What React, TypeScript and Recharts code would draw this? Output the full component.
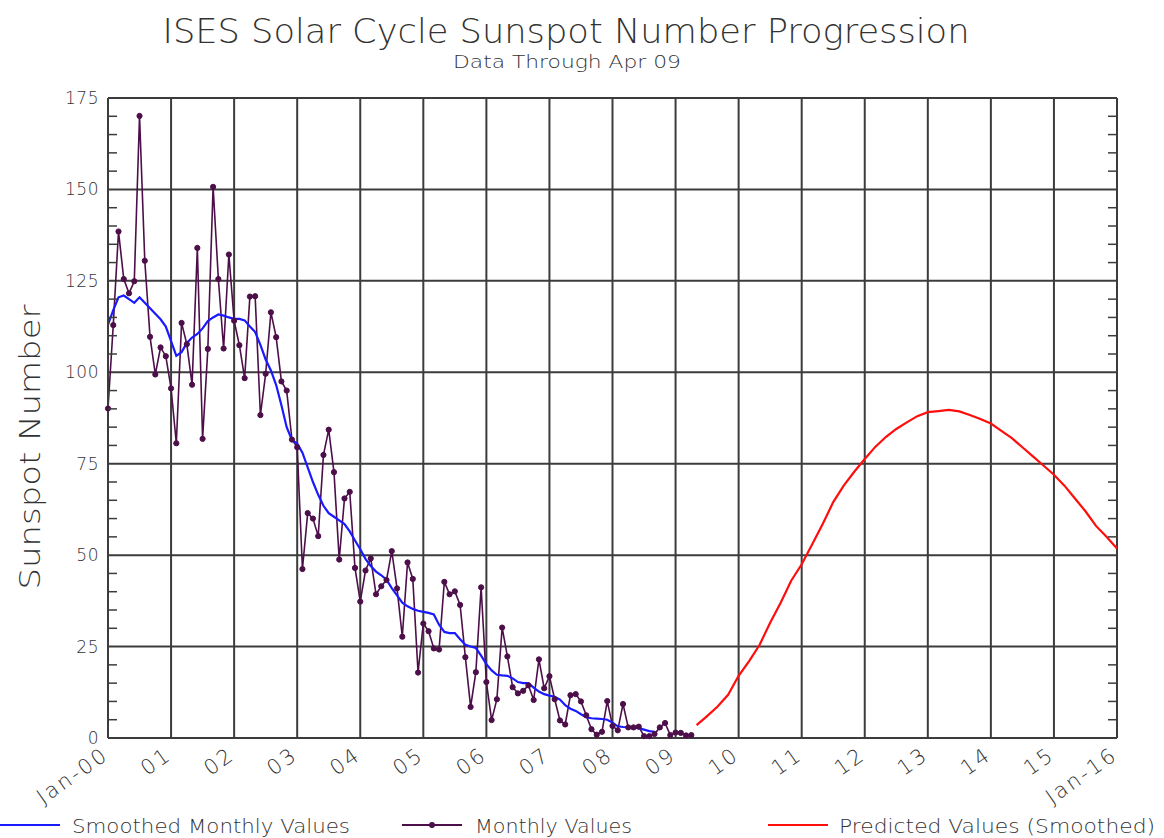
import { LineChart, Line, XAxis, YAxis, CartesianGrid } from 'recharts';

// monthly sunspot numbers, Jan 2000 .. Apr 2009
const monthlyValues = [
  90.1, 112.9, 138.5, 125.5, 121.6, 124.9, 170.1, 130.5, 109.7, 99.4, 106.8, 104.4,
  95.6, 80.6, 113.5, 107.7, 96.6, 134.0, 81.8, 106.4, 150.7, 125.5, 106.5, 132.2,
  114.1, 107.4, 98.4, 120.7, 120.8, 88.3, 99.6, 116.4, 109.6, 97.5, 95.0, 81.6,
  79.5, 46.2, 61.5, 60.0, 55.2, 77.4, 84.3, 72.7, 48.8, 65.5, 67.3, 46.5,
  37.3, 45.8, 49.1, 39.3, 41.5, 43.2, 51.1, 40.9, 27.7, 48.0, 43.5, 17.9,
  31.3, 29.2, 24.5, 24.2, 42.7, 39.3, 40.1, 36.4, 22.1, 8.5, 18.0, 41.2,
  15.3, 4.9, 10.6, 30.2, 22.3, 13.9, 12.2, 12.9, 14.4, 10.4, 21.5, 13.6,
  16.9, 10.6, 4.8, 3.7, 11.7, 12.0, 10.0, 6.2, 2.4, 0.9, 1.7, 10.1,
  3.3, 2.1, 9.3, 2.9, 2.9, 3.1, 0.5, 0.5, 1.1, 2.9, 4.1, 0.8,
  1.5, 1.4, 0.7, 0.8,
];

// 13-month smoothed, Jan 2000 .. Sep 2008
const smoothedValues = [
  113, 117, 120.5, 121, 120, 119, 120.5, 119, 117.5, 116, 114.5, 112.5,
  108.5, 104.5, 105.5, 108, 109.5, 110.5, 112, 114, 115, 115.8, 115.5, 115,
  114.6, 114.6, 114.2, 112.5, 111, 107.5, 103.5, 100.5, 96.5, 91, 85, 81.5,
  80.5, 78, 74, 70, 66.5, 63.5, 61.5, 60.5, 59.5, 58.5, 56.5, 54,
  51.6, 49, 47, 45.5, 44.5, 43.3, 41, 39, 37, 36, 35.3, 34.8,
  34.5, 34.2, 33.8, 31, 29, 28.7, 28.7, 27, 25.5, 25, 24.6, 22.5,
  20.2, 18.5, 17.3, 17.1, 17, 16.3, 15.3, 15, 15, 13.8, 12.7, 12,
  11.6, 11.3, 10.5, 9, 8, 7.4, 6.5, 5.7, 5.4, 5.3, 5.2, 5,
  4.2, 3.2, 3, 2.9, 2.8, 2.7, 2.3, 1.9, 1.7,
];

// predicted (smoothed), month index since Jan 2000
const predictedMonths = [
  112, 114, 116, 118, 120, 122, 124, 126, 128, 130, 132, 134, 136, 138, 140, 142,
  144, 146, 148, 150, 152, 154, 156, 158, 160, 162, 164, 166, 168, 170, 172, 174,
  176, 178, 180, 182, 184, 186, 188, 190, 192,
];
const predictedValues = [
  3.5, 6, 8.6, 11.8, 17, 21, 25.5, 31.5, 37, 43, 47.5, 53, 58.5, 64.5, 69, 72.8,
  76.3, 79.6, 82.3, 84.5, 86.3, 88, 89.1, 89.4, 89.7, 89.3, 88.3, 87.2, 86, 84, 82, 79.5,
  77, 74.5, 72, 69, 65.5, 62, 58, 55, 51.8,
];

const xTicks = [0, 12, 24, 36, 48, 60, 72, 84, 96, 108, 120, 132, 144, 156, 168, 180, 192];
const xTickLabels = ['Jan-00', '01', '02', '03', '04', '05', '06', '07', '08', '09', '10', '11', '12', '13', '14', '15', 'Jan-16'];
const yMajor = [0, 25, 50, 75, 100, 125, 150, 175];
const yMinor = Array.from({ length: 36 }, (_, i) => i * 5);

const monthlyData = monthlyValues.map((v, i) => ({ m: i, v }));
const smoothedData = smoothedValues.map((v, i) => ({ m: i, v }));
const predictedData = predictedMonths.map((m, i) => ({ m, v: predictedValues[i] }));

const W = 1164;
const H = 838;
const PLOT_L = 108;
const PLOT_R = 1117;
const PLOT_W = PLOT_R - PLOT_L;
const FONT = "'DejaVu Sans', sans-serif";
const FW = 200;
const TXT = '#333';
const GRID = '#3c3c3c';
const PURPLE = '#4d0f4a';

const YTick = (props: any) => {
  const { x, y, payload } = props;
  const v = payload.value;
  const major = v % 25 === 0;
  return (
    <g>
      {!major && <line x1={x} x2={x + 9} y1={y} y2={y} stroke={GRID} strokeWidth={1.5} />}
      {!major && <line x1={x + PLOT_W - 9} x2={x + PLOT_W} y1={y} y2={y} stroke={GRID} strokeWidth={1.5} />}
      {major && (
        <text x={x - 9} y={y + 6} textAnchor="end" fontSize={17} fontWeight={FW} fontFamily={FONT} fill={TXT} letterSpacing={0.5}>
          {v}
        </text>
      )}
    </g>
  );
};

const XTick = (props: any) => {
  const { x, payload } = props;
  const idx = xTicks.indexOf(payload.value);
  const bx = x + 2;
  const by = 758;
  return (
    <text
      x={bx}
      y={by}
      textAnchor="end"
      fontSize={21}
      fontWeight={FW}
      fontFamily={FONT}
      fill={TXT}
      letterSpacing={2.5}
      transform={`rotate(-35, ${bx}, ${by})`}
    >
      {xTickLabels[idx]}
    </text>
  );
};

export default function App() {
  return (
    <div style={{ position: 'absolute', left: 0, top: 0, width: W, height: H, background: '#fff' }}>
      <LineChart width={W} height={H} margin={{ top: 98, right: W - PLOT_R, left: PLOT_L - 60, bottom: 20 }}>
        <CartesianGrid stroke={GRID} strokeWidth={2} horizontalValues={yMajor} verticalValues={xTicks} />
        <XAxis
          dataKey="m"
          type="number"
          domain={[0, 192]}
          ticks={xTicks}
          interval={0}
          height={80}
          tickSize={0}
          tickMargin={0}
          axisLine={{ stroke: GRID, strokeWidth: 2 }}
          tick={<XTick />}
          allowDuplicatedCategory={false}
        />
        <YAxis
          type="number"
          domain={[0, 175]}
          ticks={yMinor}
          interval={0}
          width={60}
          tickSize={0}
          tickMargin={0}
          axisLine={{ stroke: GRID, strokeWidth: 2 }}
          tickLine={false}
          tick={<YTick />}
        />
        <Line
          data={monthlyData}
          dataKey="v"
          type="linear"
          stroke={PURPLE}
          strokeWidth={1.6}
          dot={{ r: 2.6, fill: PURPLE, stroke: PURPLE, strokeWidth: 1 }}
          isAnimationActive={false}
        />
        <Line
          data={smoothedData}
          dataKey="v"
          type="linear"
          stroke="#1a1aff"
          strokeWidth={2.2}
          dot={false}
          isAnimationActive={false}
        />
        <Line
          data={predictedData}
          dataKey="v"
          type="linear"
          stroke="#ff0d0d"
          strokeWidth={2.2}
          dot={false}
          isAnimationActive={false}
        />
      </LineChart>
      <svg width={W} height={H} style={{ position: 'absolute', left: 0, top: 0, pointerEvents: 'none' }}>
        <text x={566} y={43} textAnchor="middle" fontSize={33} fontWeight={FW} fontFamily={FONT} fill={TXT} textLength={807} lengthAdjust="spacingAndGlyphs">
          ISES Solar Cycle Sunspot Number Progression
        </text>
        <text x={567} y={68} textAnchor="middle" fontSize={18} fontWeight={FW} fontFamily={FONT} fill={TXT} textLength={228} lengthAdjust="spacingAndGlyphs">
          Data Through Apr 09
        </text>
        <text
          x={40}
          y={447}
          textAnchor="middle"
          fontSize={29}
          fontWeight={FW}
          fontFamily={FONT}
          fill={TXT}
          textLength={285}
          lengthAdjust="spacingAndGlyphs"
          transform="rotate(-90, 40, 447)"
        >
          Sunspot Number
        </text>
        <line x1={0} x2={60} y1={825} y2={825} stroke="#1a1aff" strokeWidth={2} />
        <text x={72} y={833} fontSize={20} fontWeight={FW} fontFamily={FONT} fill={TXT} textLength={278} lengthAdjust="spacingAndGlyphs">
          Smoothed Monthly Values
        </text>
        <line x1={402} x2={462} y1={825} y2={825} stroke={PURPLE} strokeWidth={2} />
        <circle cx={432} cy={825} r={3} fill={PURPLE} />
        <text x={475} y={833} fontSize={20} fontWeight={FW} fontFamily={FONT} fill={TXT} textLength={157} lengthAdjust="spacingAndGlyphs">
          Monthly Values
        </text>
        <line x1={768} x2={828} y1={825} y2={825} stroke="#ff0d0d" strokeWidth={2} />
        <text x={839} y={833} fontSize={20} fontWeight={FW} fontFamily={FONT} fill={TXT} textLength={316} lengthAdjust="spacingAndGlyphs">
          Predicted Values (Smoothed)
        </text>
      </svg>
    </div>
  );
}
